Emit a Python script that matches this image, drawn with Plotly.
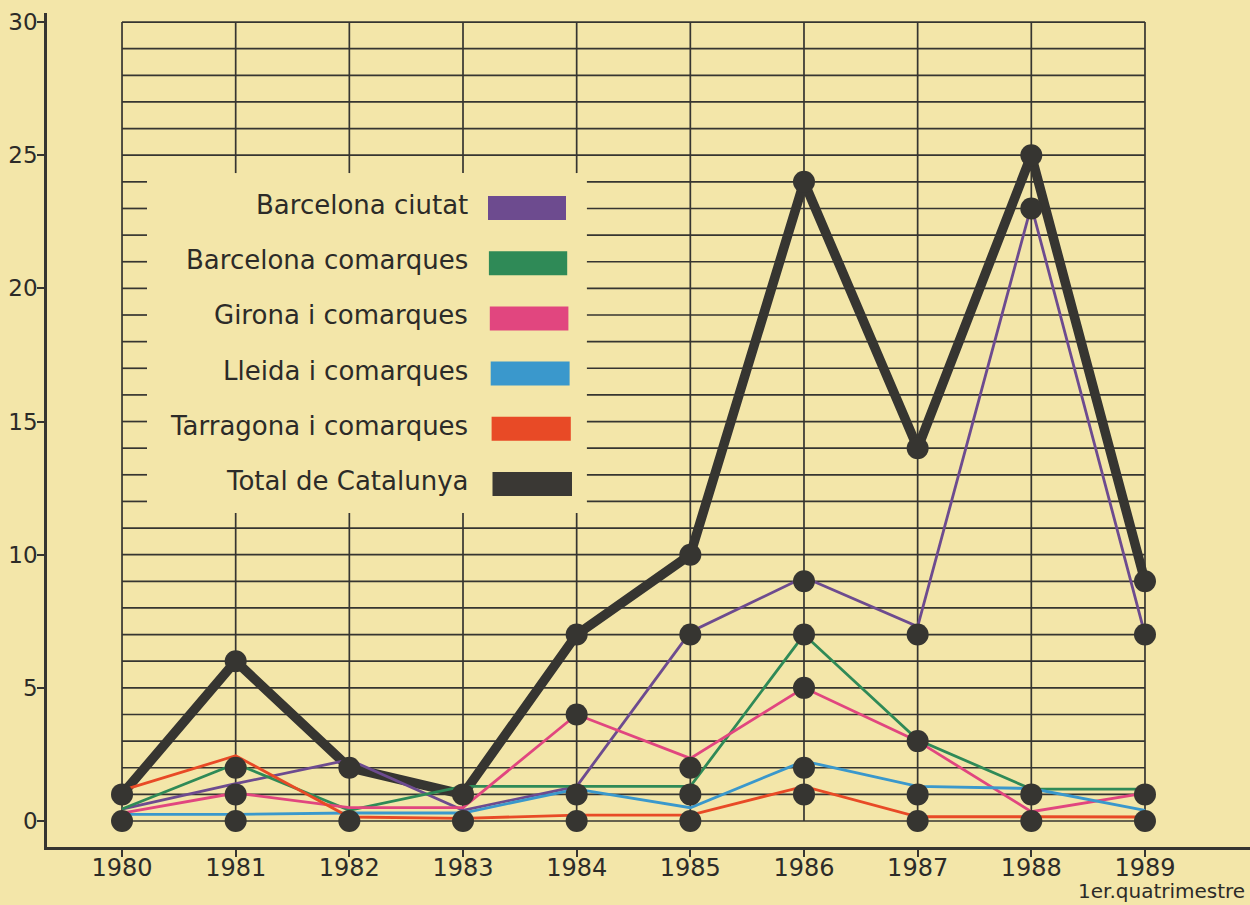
import plotly.graph_objects as go

# ---------------- data ----------------
years = [1980, 1981, 1982, 1983, 1984, 1985, 1986, 1987, 1988, 1989]

series_names = ["Barcelona ciutat", "Barcelona comarques", "Girona i comarques",
                "Lleida i comarques", "Tarragona i comarques", "Total de Catalunya"]

# counts (dots sit at these integer values)
bcn_ciutat = [0, 1, 2, 0, 1, 7, 9, 7, 23, 7]
bcn_comarques = [0, 2, 0, 1, 1, 1, 7, 3, 1, 1]
girona = [0, 1, 0, 0, 4, 2, 5, 3, 0, 1]
lleida = [0, 0, 0, 0, 1, 0, 2, 1, 1, 0]
tarragona = [1, 2, 0, 0, 0, 0, 1, 0, 0, 0]
total = [1, 6, 2, 1, 7, 10, 24, 14, 25, 9]

# thin coloured lines as drawn in the original (slightly offset to avoid overlaps)
bcn_ciutat_drawn = [0.45, 1.4, 2.3, 0.4, 1.3, 7.1, 9.15, 7.3, 23.1, 7.0]
bcn_comarques_drawn = [0.45, 2.15, 0.4, 1.3, 1.3, 1.3, 7.0, 3.05, 1.2, 1.2]
girona_drawn = [0.3, 1.05, 0.5, 0.5, 4.0, 2.35, 5.0, 3.0, 0.35, 1.05]
lleida_drawn = [0.25, 0.25, 0.3, 0.3, 1.2, 0.5, 2.25, 1.3, 1.22, 0.4]
tarragona_drawn = [1.15, 2.45, 0.15, 0.1, 0.22, 0.22, 1.3, 0.16, 0.16, 0.15]

y_ticks = [0, 5, 10, 15, 20, 25, 30]
grid_levels = list(range(0, 31))
note = "1er.quatrimestre"

# ---------------- style ----------------
BG = "#f3e6a9"
INK = "#363531"
TXT = "#2c2b28"
FONT = "DejaVu Sans"
colors = ["#6d4b8f", "#2f8a57", "#e1467f", "#3a98cc", "#e84a26", "#3a3834"]

W, H = 1250, 905
ML, MR, MT, MB = 47, 0, 13, 58
XR = [1979.340, 1989.924]
YR = [-0.976, 30.34]

fig = go.Figure()

drawn = [bcn_ciutat_drawn, bcn_comarques_drawn, girona_drawn, lleida_drawn, tarragona_drawn]
counts = [bcn_ciutat, bcn_comarques, girona, lleida, tarragona, total]

# thick total line
fig.add_trace(go.Scatter(x=years, y=total, mode="lines",
                         line=dict(color=INK, width=9.5), hoverinfo="skip", showlegend=False))
# coloured lines
for vals, col in zip(drawn, colors[:5]):
    fig.add_trace(go.Scatter(x=years, y=vals, mode="lines",
                             line=dict(color=col, width=2.8), hoverinfo="skip", showlegend=False))

# dots at every distinct value per year
dot_x, dot_y = [], []
for i, yr in enumerate(years):
    for v in sorted({c[i] for c in counts}):
        dot_x.append(yr)
        dot_y.append(v)
fig.add_trace(go.Scatter(x=dot_x, y=dot_y, mode="markers",
                         marker=dict(size=22, color=INK), hoverinfo="skip", showlegend=False))

# ---------------- grid (graph-paper, with legend cut-out) ----------------
shapes = []
gl = dict(color=INK, width=1.7)
cut_x0, cut_x1 = 1980.22, 1984.09      # horizontal lines interrupted between these
cut_y0, cut_y1 = 11.57, 24.33          # vertical lines interrupted between these
for v in grid_levels:
    if 12 <= v <= 24:
        segs = [(years[0], cut_x0), (cut_x1, years[-1])]
    else:
        segs = [(years[0], years[-1])]
    for a, b in segs:
        shapes.append(dict(type="line", xref="x", yref="y", x0=a, x1=b, y0=v, y1=v,
                           line=gl, layer="below"))
for yr in years:
    if 1981 <= yr <= 1984:
        segs = [(0, cut_y0), (cut_y1, 30)]
    else:
        segs = [(0, 30)]
    for a, b in segs:
        shapes.append(dict(type="line", xref="x", yref="y", x0=yr, x1=yr, y0=a, y1=b,
                           line=gl, layer="below"))

# ---------------- legend (text left of swatch) ----------------
pw = W - ML - MR
ph = H - MT - MB
def px_x(px):
    return (px - ML) / pw
def px_y(py):
    return (H - MB - py) / ph

annotations = []
row0, row_step = 208, 55.2
for i, (name, col) in enumerate(zip(series_names, colors)):
    cy = row0 + i * row_step
    annotations.append(dict(text=name, xref="paper", yref="paper",
                            x=px_x(470), y=px_y(cy - 3), xanchor="right", yanchor="middle",
                            showarrow=False, font=dict(family=FONT, size=26, color=TXT)))
    shapes.append(dict(type="rect", xref="paper", yref="paper",
                       x0=px_x(488 + i * 0.9), x1=px_x(566 + i * 1.2),
                       y0=px_y(cy + 12), y1=px_y(cy - 12),
                       fillcolor=col, line=dict(width=0), layer="above"))

annotations.append(dict(text=note, xref="paper", yref="paper",
                        x=px_x(1247), y=px_y(891), xanchor="right", yanchor="middle",
                        showarrow=False, font=dict(family=FONT, size=20, color=TXT)))

fig.update_layout(
    width=W, height=H,
    margin=dict(l=ML, r=MR, t=MT, b=MB),
    paper_bgcolor=BG, plot_bgcolor=BG,
    showlegend=False,
    shapes=shapes, annotations=annotations,
    xaxis=dict(range=XR, tickvals=years, ticktext=[str(y) for y in years],
               showgrid=False, zeroline=False, showline=True, linecolor=INK, linewidth=2.6,
               ticks="outside", ticklen=7, tickwidth=2, tickcolor=INK, ticklabelstandoff=-10,
               tickfont=dict(family=FONT, size=24, color=TXT), fixedrange=True),
    yaxis=dict(range=YR, tickvals=y_ticks, ticktext=[str(v) for v in y_ticks],
               showgrid=False, zeroline=False, showline=True, linecolor=INK, linewidth=2.6,
               ticks="outside", ticklen=7, tickwidth=2, tickcolor=INK, ticklabelstandoff=-5,
               tickfont=dict(family=FONT, size=23, color=TXT), fixedrange=True),
)

fig.write_html("out.html", config={"displayModeBar": False},
               post_script="document.body.style.margin='0px';"
                           "document.body.style.background='" + BG + "';"
                           "document.body.style.overflow='hidden';")
